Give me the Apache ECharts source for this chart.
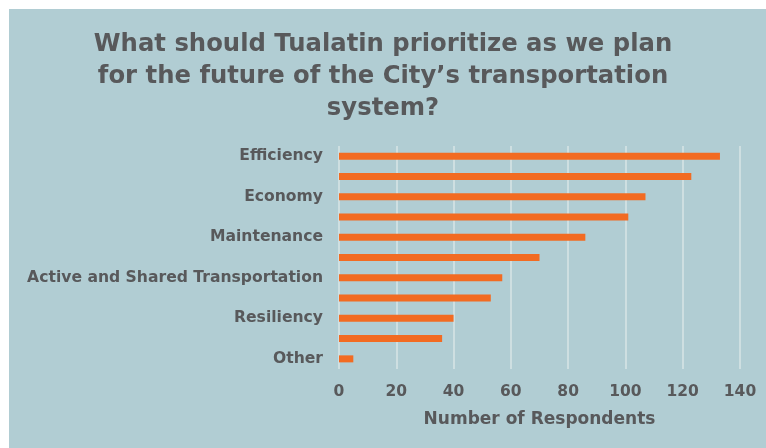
<!DOCTYPE html>
<html><head><meta charset="utf-8">
<script src="https://cdn.jsdelivr.net/npm/echarts@6/dist/echarts.min.js"></script>
<style>html,body{margin:0;padding:0;background:#fff}#c{width:766px;height:448px}</style>
</head><body><div id="c"></div>
<script>
var titleText = "What should Tualatin prioritize as we plan\nfor the future of the City\u2019s transportation\nsystem?";
var categories = ["Efficiency","Safety","Economy","Connectivity","Maintenance","Livability","Active and Shared Transportation","Equity","Resiliency","Environment","Other"];
var values = [133,123,107,101,86,70,57,53,40,36,5];
var xTicks = [0,20,40,60,80,100,120,140];
var axisName = "Number of Respondents";

var textColor = "#58595b";
var font = "DejaVu Sans";
var chart = echarts.init(document.getElementById('c'), null, {renderer:'canvas'});
chart.setOption({
  backgroundColor: '#ffffff',
  animation: false,
  graphic: [{type:'rect', shape:{x:9,y:9,width:757,height:439}, style:{fill:'#b1cdd3'}, z:-10}],
  title: {
    text: titleText, left: 'center', top: 24,
    textStyle: {fontFamily: font, fontWeight: 'bold', fontSize: 24.3, color: textColor, lineHeight: 32}
  },
  grid: {left: 339, right: 26, top: 146, bottom: 79, containLabel: false},
  xAxis: {
    type: 'value', min: xTicks[0], max: xTicks[xTicks.length-1], interval: 20,
    name: axisName, nameLocation: 'middle', nameGap: 42,
    nameTextStyle: {fontFamily: font, fontWeight: 'bold', fontSize: 17, color: textColor},
    axisLine: {show: false}, axisTick: {show: false},
    axisLabel: {fontFamily: font, fontWeight: 'bold', fontSize: 15.5, color: textColor, margin: 15},
    splitLine: {show: true, lineStyle: {color: '#d9e4e6', width: 1.5}}
  },
  yAxis: {
    type: 'category', data: categories, inverse: true,
    axisLine: {show: false}, axisTick: {show: false},
    axisLabel: {interval: 1, fontFamily: font, fontWeight: 'bold', fontSize: 15.6, color: textColor, margin: 16}
  },
  series: [{
    type: 'bar', data: values, barWidth: 7,
    itemStyle: {color: '#f26b22'}
  }]
});
</script></body></html>
